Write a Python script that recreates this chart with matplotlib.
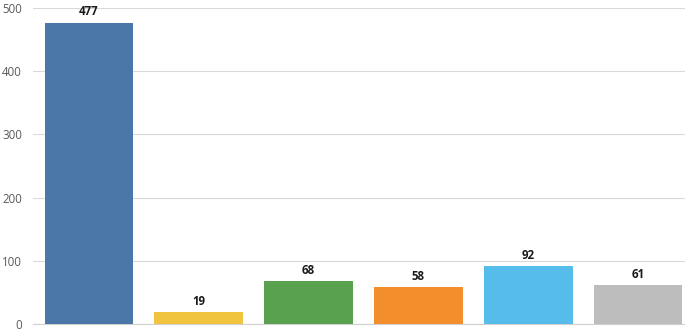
import matplotlib
matplotlib.use("Agg")
import matplotlib.pyplot as plt

categories = ["A", "B", "C", "D", "E", "F"]
values = [477, 19, 68, 58, 92, 61]
colors = ["#4A76A8", "#F0C43F", "#59A14F", "#F28E2B", "#56BCE9", "#BDBDBD"]
yticks = [0, 100, 200, 300, 400, 500]

plt.rcParams['font.family'] = ['Open Sans', 'DejaVu Sans']

W, H = 685, 333
fig = plt.figure(figsize=(W / 100, H / 100), dpi=100)
left, right, top, bottom = 33, 685, 8, 324
ax = fig.add_axes([left / W, (H - bottom) / H, (right - left) / W, (bottom - top) / H])

x = list(range(len(categories)))
bars = ax.bar(x, values, width=0.81, color=colors, zorder=3)
for xi, v in zip(x, values):
    ax.annotate(str(v), (xi, v), xytext=(0, 3), textcoords="offset points",
                ha="center", va="bottom", fontsize=8.3, fontweight="bold",
                color="#1a1a1a", clip_on=False)

x0 = -0.5 - 0.01
ax.set_xlim(x0, x0 + (right - left) / 109.8)
ax.set_ylim(0, 500)
ax.set_yticks(yticks)
ax.set_xticks([])
ax.yaxis.grid(True, color="#d9d9d9", linewidth=0.8, zorder=0)
for s in ["left", "right", "top"]:
    ax.spines[s].set_visible(False)
ax.spines["bottom"].set_color("#d0d0d0")
ax.spines["bottom"].set_linewidth(0.8)
ax.tick_params(axis="y", length=0, pad=8, labelsize=8.3, labelcolor="#595959")

fig.savefig("out.png", dpi=100)
